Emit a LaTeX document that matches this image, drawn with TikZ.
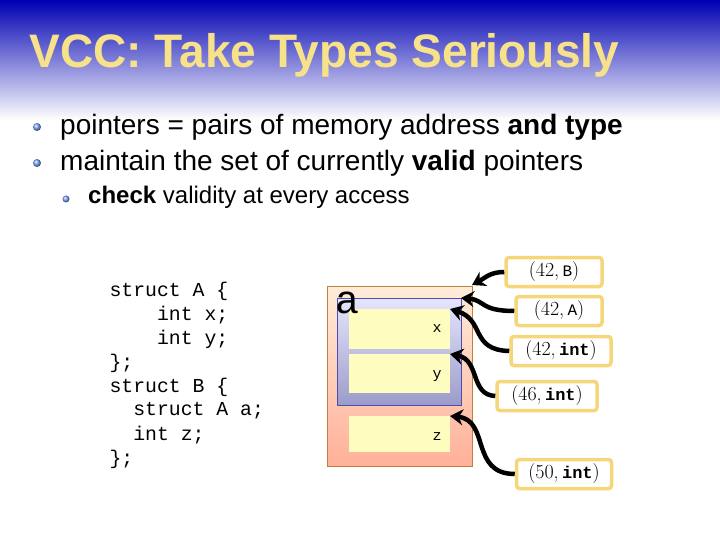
\documentclass[tikz,border=0pt]{standalone}
\usepackage{fontspec}
\setmainfont{Liberation Sans}
\setmonofont{Liberation Mono}
\newfontfamily\lmr{Latin Modern Roman}
\usetikzlibrary{arrows.meta}
\definecolor{tyel}{HTML}{F7E28A}
\definecolor{lbl}{HTML}{F5D77A}
\begin{document}
\begin{tikzpicture}[x=1pt,y=-1pt,
  lab/.style={draw=lbl,line width=3.5pt,fill=white,rounded corners=3pt,font=\lmr\fontsize{20}{20}\selectfont,inner sep=3pt,minimum height=29pt},
  ptr/.style={line width=4.5pt,-{Stealth[length=13pt,width=16pt]}},
  cell/.style={fill=yellow!25,draw=none},
  code/.style={anchor=west,font=\ttfamily\fontsize{19.8}{19.8}\selectfont}]
\useasboundingbox (0,0) rectangle (720,540);
\fill[white] (0,0) rectangle (720,540);
\shade[top color=blue!70!black, middle color=blue!30!cyan!60!black!70, bottom color=white] (0,0) rectangle (720,120);
\node[anchor=west,text=tyel,font=\fontsize{47}{47}\selectfont\bfseries,xscale=0.98] (title) at (26,55) {VCC: Take Types Seriously};
\foreach \y in {127,163}{\shade[ball color=cyan!30!blue!50!white] (37,\y) circle (4pt);}
\shade[ball color=cyan!30!blue!50!white] (66,199) circle (3.5pt);
\node[anchor=west,font=\fontsize{28}{28}\selectfont,inner sep=0pt] (t1) at (60,127) {pointers = pairs of memory address \textbf{and type}};
\node[anchor=west,font=\fontsize{28}{28}\selectfont,inner sep=0pt] (t2) at (60,163) {maintain the set of currently \textbf{valid} pointers};
\node[anchor=west,font=\fontsize{24}{24}\selectfont,inner sep=0pt] (t3) at (88,197) {\textbf{check} validity at every access};
\node[code] (c1) at (106,291) {struct A \{};
\node[code] (c2) at (106,315) {\ \ \ \ int x;};
\node[code] (c3) at (106,339) {\ \ \ \ int y;};
\node[code] (c4) at (106,363) {\};};
\node[code] (c5) at (106,387) {struct B \{};
\node[code] (c6) at (106,411) {\ \ struct A a;};
\node[code] (c7) at (106,435) {\ \ int z;};
\node[code] (c8) at (106,459) {\};};
% memory
\shade[top color=orange!15, bottom color=orange!45!red!40, draw=orange!50!gray] (327,286) rectangle (472,466);
\coordinate (outer) at (472,285);
\shade[top color=blue!10, bottom color=blue!30!gray!60, draw=blue!40!gray] (337,298) rectangle (461,405);
\coordinate (inner) at (461,298);
\fill[cell] (349,309) rectangle (450,349); \coordinate (cx) at (450,309);
\fill[cell] (349,354) rectangle (450,393); \coordinate (cy) at (450,354);
\fill[cell] (349,416) rectangle (450,452); \coordinate (cz) at (450,416);
\node[font=\fontspec{Liberation Mono}\fontsize{40}{40}\selectfont,anchor=north west,inner sep=0pt] (a) at (335,292) {a};
\node[font=\ttfamily\fontsize{15}{15}\selectfont] (lx) at (437,329) {x};
\node[font=\ttfamily\fontsize{15}{15}\selectfont] (ly) at (437,376) {y};
\node[font=\ttfamily\fontsize{15}{15}\selectfont] (lz) at (437,437) {z};
% labels
\node[lab,minimum width=96pt] (pB) at (554,272) {(42,\,\texttt{\fontsize{16}{16}\selectfont B})};
\node[lab,minimum width=86pt] (pA) at (559,311) {(42,\,\texttt{\fontsize{16}{16}\selectfont A})};
\node[lab,minimum width=100pt] (pi1) at (561,351) {(42,\,\texttt{\fontsize{17}{17}\selectfont\bfseries int})};
\node[lab,minimum width=100pt] (pi2) at (547,396) {(46,\,\texttt{\fontsize{17}{17}\selectfont\bfseries int})};
\node[lab,minimum width=95pt] (pi3) at (564,474) {(50,\,\texttt{\fontsize{17}{17}\selectfont\bfseries int})};
\draw[ptr] (pB.west) .. controls (490,272) and (485,278) .. (outer);
\draw[ptr] (pA.west) .. controls (480,311) and (485,300) .. (inner);
\draw[ptr] (pi1.west) .. controls (470,350) and (485,320) .. (cx);
\draw[ptr] (pi2.west) .. controls (470,395) and (480,360) .. (cy);
\draw[ptr] (pi3.west) .. controls (470,474) and (490,420) .. (cz);
\end{tikzpicture}
\end{document}
